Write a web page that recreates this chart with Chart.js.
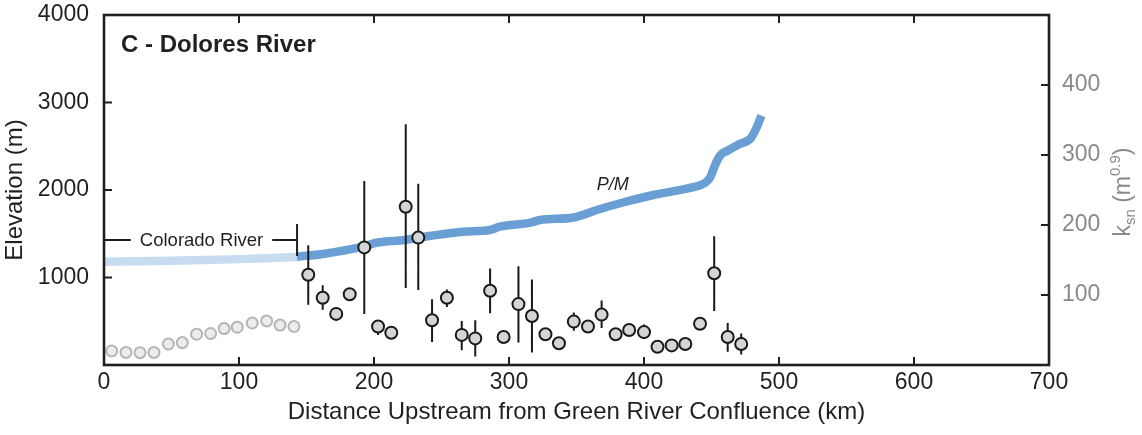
<!DOCTYPE html>
<html>
<head>
<meta charset="utf-8">
<script src="https://cdn.jsdelivr.net/npm/chart.js@4.4.0/dist/chart.umd.min.js"></script>
<style>
  html, body { margin: 0; padding: 0; background: #fff; }
</style>
</head>
<body>
<canvas id="chart" width="1142" height="435"></canvas>
<script>
// river profile, lower part shared with the Colorado River (km, m)
var coloradoKm = [0, 25, 50, 75, 100, 125, 145];
var coloradoElev = [1180, 1185, 1192, 1200, 1210, 1222, 1238];

// Dolores River profile (km, m)
var doloresKm = [143, 162, 192, 202, 223, 241, 266, 286, 293, 316, 323, 348, 365, 385, 407, 425, 437, 445, 449, 452, 455, 458, 462, 470, 479, 483, 487];
var doloresElev = [1238, 1269, 1352, 1398, 1429, 1474, 1524, 1543, 1581, 1627, 1657, 1686, 1771, 1860, 1943, 1995, 2035, 2080, 2143, 2260, 2360, 2420, 2450, 2520, 2590, 2700, 2850];

// ksn along the Colorado River reach (grey open circles)
var coloradoKsnKm = [5.7, 16.3, 26.7, 37, 47.7, 58, 68.6, 79, 89, 98.7, 109.8, 120.5, 130.4, 140.7];
var coloradoKsn = [20, 18, 17.6, 18, 30, 32, 44, 45, 52, 54, 60, 63, 57, 55];

// ksn along the Dolores River with error range (null = no bar)
var ksnKm = [151.3, 162, 172, 182, 192.8, 203, 212.8, 223.5, 232.8, 243, 254, 265, 275, 286, 296, 307, 317, 327, 337, 348, 358.5, 368.6, 379, 389, 400, 410, 420.5, 430.6, 441.5, 452, 462, 472];
var ksnVal = [129, 96, 73, 101, 168, 55, 46, 226, 182, 64, 96, 43, 38, 106, 40, 87, 70, 44, 31, 62, 55, 72, 44, 50, 47, 26, 28, 30, 59, 131, 40, 30];
var ksnLow = [86, 79, null, null, 73, 43, null, 110, 107, 33, 83, 21, 12, 74, null, 32, 18, null, null, 49, null, 53, null, null, 37, null, null, null, null, 77, 19, 15];
var ksnHigh = [171, 114, null, null, 263, 64, null, 344, 259, 94, 108, 63, 64, 138, null, 141, 122, null, null, 75, null, 92, null, null, 58, null, null, null, null, 184, 60, 45];

// ticks
var kmTicks = [0, 100, 200, 300, 400, 500, 600, 700];
var elevTicks = [1000, 2000, 3000, 4000];
var ksnTicks = [100, 200, 300, 400];

// labels
var panelTitle = 'C - Dolores River';
var coloradoLabel = 'Colorado River';
var coloradoEndKm = 143;
var coloradoLabelElev = 1430;
var pmLabel = 'P/M';
var pmKm = 365;
var pmElev = 2000;

var dark = '#231f20';
var grey = '#8a8a8a';
var font = "'Liberation Sans', Arial, sans-serif";
Chart.defaults.font.family = font;

function toXY(xs, ys) {
    return xs.map(function (x, i) { return { x: x, y: ys[i] }; });
}

// error bars as one line dataset, broken with nulls
var errData = [];
ksnKm.forEach(function (x, i) {
    if (ksnLow[i] === null) return;
    errData.push({ x: x, y: ksnLow[i] });
    errData.push({ x: x, y: ksnHigh[i] });
    errData.push({ x: x, y: null });
});

// no extra room for overhanging tick labels
function noPad(s) {
    s.paddingTop = 0; s.paddingBottom = 0;
    s.paddingLeft = 0; s.paddingRight = 0;
}

// frame, inward ticks and text labels
var decor = {
    id: 'decor',
    afterDatasetsDraw: function (chart) {
        var ctx = chart.ctx;
        var a = chart.chartArea;
        var sx = chart.scales.x, sy = chart.scales.y, sy2 = chart.scales.y2;
        var tl = 8;
        ctx.save();
        ctx.strokeStyle = dark;
        ctx.lineWidth = 2;
        kmTicks.forEach(function (v) {
            if (v === 0 || v === 700) return;
            var px = sx.getPixelForValue(v);
            ctx.beginPath();
            ctx.moveTo(px, a.bottom); ctx.lineTo(px, a.bottom - tl);
            ctx.moveTo(px, a.top); ctx.lineTo(px, a.top + tl);
            ctx.stroke();
        });
        elevTicks.forEach(function (v) {
            var py = sy.getPixelForValue(v);
            ctx.beginPath();
            ctx.moveTo(a.left, py); ctx.lineTo(a.left + tl, py);
            ctx.stroke();
        });
        ksnTicks.forEach(function (v) {
            var py = sy2.getPixelForValue(v);
            ctx.beginPath();
            ctx.moveTo(a.right, py); ctx.lineTo(a.right - tl, py);
            ctx.stroke();
        });
        ctx.lineWidth = 2.6;
        ctx.strokeRect(a.left, a.top, a.right - a.left, a.bottom - a.top);

        // panel title
        ctx.fillStyle = dark;
        ctx.font = 'bold 24px ' + font;
        ctx.textBaseline = 'alphabetic';
        ctx.textAlign = 'left';
        ctx.fillText(panelTitle, a.left + 17, a.top + 37);

        // Colorado River bracket
        var y0 = sy.getPixelForValue(coloradoLabelElev);
        var x0 = sx.getPixelForValue(0);
        var x1 = sx.getPixelForValue(coloradoEndKm);
        ctx.font = '18.5px ' + font;
        var tw = ctx.measureText(coloradoLabel).width;
        var xc = (x0 + x1) / 2 + 1;
        ctx.lineWidth = 2;
        ctx.beginPath();
        ctx.moveTo(x0, y0); ctx.lineTo(xc - tw / 2 - 9, y0);
        ctx.moveTo(xc + tw / 2 + 9, y0); ctx.lineTo(x1, y0);
        ctx.moveTo(x1, y0 - 16); ctx.lineTo(x1, y0 + 16);
        ctx.stroke();
        ctx.textAlign = 'center';
        ctx.textBaseline = 'middle';
        ctx.fillText(coloradoLabel, xc, y0 + 1);

        // P/M
        ctx.font = 'italic 18px ' + font;
        ctx.textAlign = 'left';
        ctx.textBaseline = 'alphabetic';
        ctx.fillText(pmLabel, sx.getPixelForValue(pmKm), sy.getPixelForValue(pmElev));

        // right axis title k_sn (m^0.9)
        var parts = [
            { t: 'k', f: '23px ', dy: 0 },
            { t: 'sn', f: '15px ', dy: 5 },
            { t: ' (m', f: '23px ', dy: 0 },
            { t: '0.9', f: '15px ', dy: -10 },
            { t: ')', f: '23px ', dy: 0 }
        ];
        var total = 0;
        parts.forEach(function (p) { ctx.font = p.f + font; p.w = ctx.measureText(p.t).width; total += p.w; });
        ctx.translate(1122, (a.top + a.bottom) / 2 + 2);
        ctx.rotate(-Math.PI / 2);
        ctx.fillStyle = grey;
        var cx = -total / 2;
        parts.forEach(function (p) {
            ctx.font = p.f + font;
            ctx.fillText(p.t, cx, 8 + p.dy);
            cx += p.w;
        });
        ctx.restore();
    }
};

var ctx = document.getElementById('chart').getContext('2d');
var chart = new Chart(ctx, {
    type: 'scatter',
    data: {
        datasets: [
            {
                label: 'ksn',
                data: toXY(ksnKm, ksnVal),
                yAxisID: 'y2',
                pointRadius: 6,
                pointBackgroundColor: '#d3d5d6',
                pointBorderColor: '#1a1a1a',
                pointBorderWidth: 2,
                order: 1
            },
            {
                label: 'ksn range',
                type: 'line',
                data: errData,
                yAxisID: 'y2',
                borderColor: '#1a1a1a',
                borderWidth: 2,
                pointRadius: 0,
                spanGaps: false,
                fill: false,
                order: 2
            },
            {
                label: 'ksn Colorado',
                data: toXY(coloradoKsnKm, coloradoKsn),
                yAxisID: 'y2',
                pointRadius: 5.5,
                pointBackgroundColor: '#ececec',
                pointBorderColor: '#b5b5b5',
                pointBorderWidth: 2,
                order: 3
            },
            {
                label: 'Dolores profile',
                type: 'line',
                data: toXY(doloresKm, doloresElev),
                yAxisID: 'y',
                borderColor: '#6a9fd6',
                borderWidth: 8.5,
                borderCapStyle: 'butt',
                cubicInterpolationMode: 'monotone',
                pointRadius: 0,
                fill: false,
                order: 4
            },
            {
                label: 'Colorado profile',
                type: 'line',
                data: toXY(coloradoKm, coloradoElev),
                yAxisID: 'y',
                borderColor: '#c8dcf1',
                borderWidth: 8.5,
                borderCapStyle: 'butt',
                pointRadius: 0,
                fill: false,
                order: 5
            }
        ]
    },
    options: {
        responsive: false,
        animation: false,
        layout: { padding: { top: 15, left: 0, right: 0, bottom: 0 } },
        plugins: {
            legend: { display: false },
            tooltip: { enabled: false }
        },
        scales: {
            x: {
                type: 'linear',
                min: 0,
                max: 700,
                grid: { display: false },
                border: { display: false },
                ticks: { stepSize: 100, color: dark, font: { size: 23 }, padding: -4, maxRotation: 0 },
                title: {
                    display: true,
                    text: 'Distance Upstream from Green River Confluence (km)',
                    color: dark,
                    font: { size: 24 },
                    padding: { top: 0, bottom: 8 }
                },
                afterFit: function (s) { s.height = 70; noPad(s); }
            },
            y: {
                position: 'left',
                min: 0,
                max: 4000,
                grid: { display: false },
                border: { display: false },
                ticks: {
                    stepSize: 1000,
                    color: dark,
                    font: { size: 23 },
                    padding: 7,
                    callback: function (v) { return v === 0 ? '' : v; }
                },
                title: {
                    display: true,
                    text: 'Elevation (m)',
                    color: dark,
                    font: { size: 24 },
                    padding: { top: 1, bottom: 0 }
                },
                afterFit: function (s) { s.width = 104; noPad(s); }
            },
            y2: {
                position: 'right',
                min: 0,
                max: 500,
                grid: { display: false },
                border: { display: false },
                ticks: {
                    stepSize: 100,
                    color: grey,
                    font: { size: 23 },
                    padding: 5,
                    callback: function (v) { return (v === 0 || v === 500) ? '' : v; }
                },
                afterFit: function (s) { s.width = 93; noPad(s); }
            }
        }
    },
    plugins: [decor]
});
</script>
</body>
</html>
